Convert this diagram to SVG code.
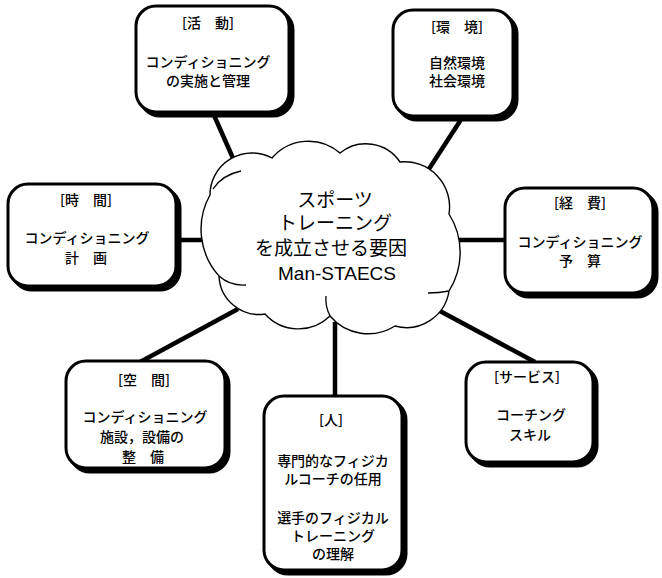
<svg xmlns="http://www.w3.org/2000/svg" width="662" height="578" viewBox="0 0 662 578">
<style>
.sh{fill:#000;stroke:#000;stroke-width:3}
.bx{fill:#fff;stroke:#000;stroke-width:3}
.t{font-family:"Noto Sans CJK JP","Noto Sans",sans-serif;font-size:14px;font-weight:500;fill:#000;text-anchor:middle}
.c{font-family:"Noto Sans CJK JP","Noto Sans",sans-serif;font-size:19px;fill:#000;text-anchor:middle}
.m{font-family:"Liberation Sans",Arial,sans-serif;font-size:19px;fill:#000;text-anchor:middle}
.ln{stroke:#000;stroke-width:4.5;stroke-linecap:butt;fill:none}
.cl{fill:#fff;stroke:#000;stroke-width:1.4}
.ci{fill:none;stroke:#000;stroke-width:1.3}
</style>
<rect width="662" height="578" fill="#fff"/>
<g id="connectors">
<line class="ln" x1="213" y1="113" x2="240" y2="174"/>
<line class="ln" x1="462" y1="118" x2="427" y2="172"/>
<line class="ln" x1="176" y1="240" x2="215" y2="240"/>
<line class="ln" x1="452" y1="240" x2="505" y2="240"/>
<line class="ln" x1="238" y1="309" x2="140" y2="362"/>
<line class="ln" x1="335" y1="322" x2="335" y2="396"/>
<line class="ln" x1="425" y1="303" x2="535" y2="362"/>
</g>
<g id="cloud">
<path class="cl" d="M210,195 A42,42 0 0 1 272,158 A48,48 0 0 1 340,153 A41,41 0 0 1 400,162 A45,45 0 0 1 449,214 A72,72 0 0 1 449,291 A43,43 0 0 1 395,326 A50,50 0 0 1 330,316 A45,45 0 0 1 265,314 A40,40 0 0 1 219,276 A70,70 0 0 1 210,195 Z"/>
<path class="ci" d="M213,189 Q222,175 241,171"/>
<path class="ci" d="M219,276 Q230,286 246,285"/>
<path class="ci" d="M330,316 Q325,306 326,296"/>
<path class="ci" d="M449,291 Q439,293 428,293"/>
<text class="c" x="335" y="207">スポーツ</text>
<text class="c" x="335" y="230">トレーニング</text>
<text class="c" x="331" y="255">を成立させる要因</text>
<text class="m" x="337" y="280">Man-STAECS</text>
</g>
<g id="katsudo">
<rect class="sh" x="140" y="10" width="153" height="106" rx="20"/>
<rect class="bx" x="136" y="6" width="153" height="106" rx="20"/>
<text class="t" x="208" y="28">[活　動]</text>
<text class="t" x="208" y="67">コンディショニング</text>
<text class="t" x="208" y="86">の実施と管理</text>
</g>
<g id="kankyo">
<rect class="sh" x="397" y="14" width="120" height="106" rx="20"/>
<rect class="bx" x="393" y="10" width="120" height="106" rx="20"/>
<text class="t" x="457" y="32">[環　境]</text>
<text class="t" x="457" y="68">自然環境</text>
<text class="t" x="457" y="86">社会環境</text>
</g>
<g id="jikan">
<rect class="sh" x="12" y="188" width="168" height="102" rx="20"/>
<rect class="bx" x="8" y="184" width="168" height="102" rx="20"/>
<text class="t" x="86" y="205">[時　間]</text>
<text class="t" x="87" y="243">コンディショニング</text>
<text class="t" x="86" y="263">計　画</text>
</g>
<g id="keihi">
<rect class="sh" x="509" y="192" width="148" height="105" rx="20"/>
<rect class="bx" x="505" y="188" width="148" height="105" rx="20"/>
<text class="t" x="580" y="208">[経　費]</text>
<text class="t" x="580" y="247">コンディショニング</text>
<text class="t" x="580" y="266">予　算</text>
</g>
<g id="kukan">
<rect class="sh" x="70" y="365" width="159" height="107" rx="20"/>
<rect class="bx" x="66" y="361" width="159" height="107" rx="20"/>
<text class="t" x="144" y="385">[空　間]</text>
<text class="t" x="145" y="422">コンディショニング</text>
<text class="t" x="142" y="442">施設，設備の</text>
<text class="t" x="143" y="462">整　備</text>
</g>
<g id="hito">
<rect class="sh" x="268" y="400" width="138" height="174" rx="20"/>
<rect class="bx" x="264" y="396" width="138" height="174" rx="20"/>
<text class="t" x="331" y="425">[人]</text>
<text class="t" x="333" y="466">専門的なフィジカ</text>
<text class="t" x="333" y="484">ルコーチの任用</text>
<text class="t" x="333" y="523">選手のフィジカル</text>
<text class="t" x="333" y="541">トレーニング</text>
<text class="t" x="333" y="559">の理解</text>
</g>
<g id="service">
<rect class="sh" x="470" y="366" width="127" height="100" rx="20"/>
<rect class="bx" x="466" y="362" width="127" height="100" rx="20"/>
<text class="t" x="527" y="382">[サービス]</text>
<text class="t" x="531" y="420">コーチング</text>
<text class="t" x="530" y="440">スキル</text>
</g>
</svg>
